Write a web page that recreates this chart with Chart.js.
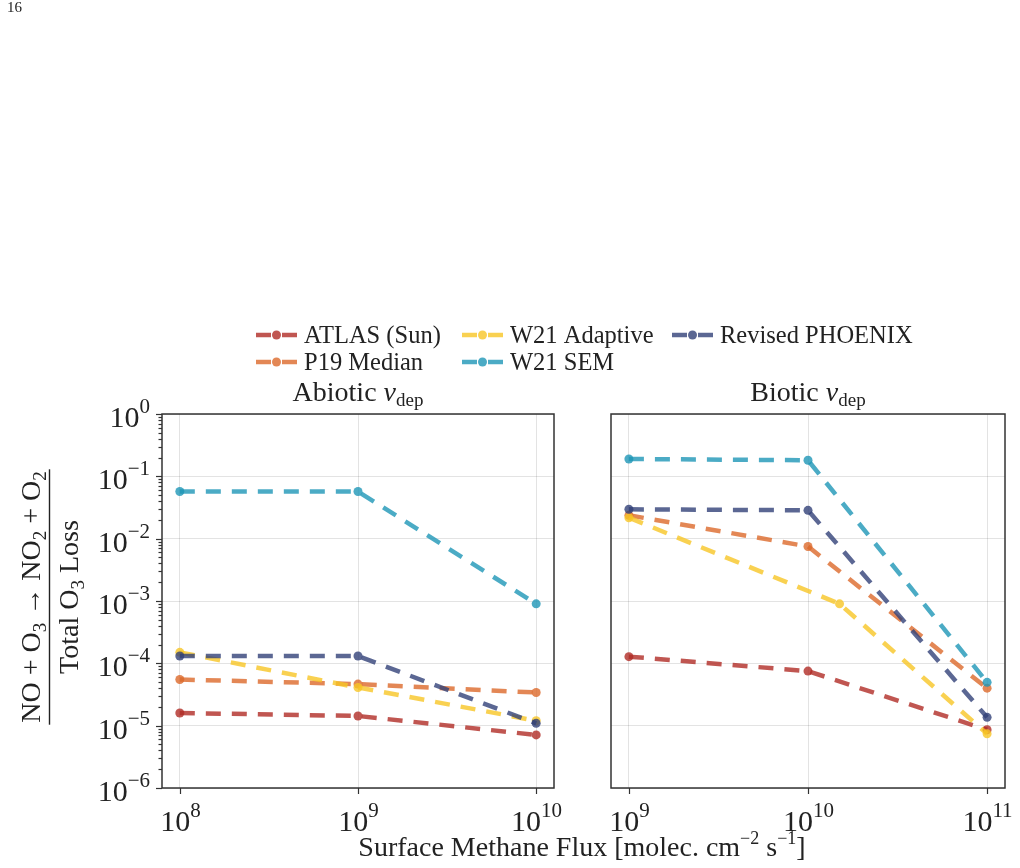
<!DOCTYPE html>
<html>
<head>
<meta charset="UTF-8">
<title>NO + O3 loss fraction</title>
<script src="https://cdn.jsdelivr.net/npm/chart.js"></script>
<style>
  body { margin: 0; background: #fff; }
  #page { position: relative; width: 1020px; height: 868px; background: #fff; }
  #page canvas { position: absolute; left: 0; top: 0; }
</style>
</head>
<body>
<div id="page">
  <canvas id="abiotic" width="1020" height="868"></canvas>
  <canvas id="biotic" width="1020" height="868"></canvas>
</div>
<script>
// --- data ---
const seriesNames = ['ATLAS (Sun)', 'P19 Median', 'W21 Adaptive', 'W21 SEM', 'Revised PHOENIX'];
const seriesColors = ['rgba(176,44,38,0.8)', 'rgba(220,105,42,0.8)', 'rgba(248,198,38,0.8)',
                      'rgba(30,150,182,0.8)', 'rgba(50,65,120,0.8)'];

const abioticFlux = [1e8, 1e9, 1e10];
const bioticFlux = [1e9, 1e10, 1e11];
const bioticFluxAdaptive = [1e9, 1.5e10, 1e11];

const atlasAbiotic    = [1.6e-5, 1.43e-5, 7.1e-6];
const p19Abiotic      = [5.5e-5, 4.65e-5, 3.4e-5];
const adaptiveAbiotic = [1.5e-4, 4.1e-5, 1.2e-5];
const semAbiotic      = [5.7e-2, 5.7e-2, 9.0e-4];
const phoenixAbiotic  = [1.31e-4, 1.31e-4, 1.09e-5];

const atlasBiotic    = [1.28e-4, 7.5e-5, 8.6e-6];
const p19Biotic      = [2.37e-2, 7.5e-3, 4.0e-5];
const adaptiveBiotic = [2.17e-2, 9.0e-4, 7.4e-6];
const semBiotic      = [0.19, 0.181, 4.96e-5];
const phoenixBiotic  = [2.96e-2, 2.85e-2, 1.36e-5];

const yDecades = [1e-6, 1e-5, 1e-4, 1e-3, 1e-2, 1e-1, 1e0];
const abioticTicks = [1e8, 1e9, 1e10];
const bioticTicks = [1e9, 1e10, 1e11];

const FONT = '"Liberation Serif", "DejaVu Serif", serif';
const INK = '#222';

// draw a run of text pieces: [text, size, dy, italic]
function rich(ctx, parts, x, y, align) {
  let w = 0;
  const runs = parts.map(p => {
    ctx.font = (p[3] ? 'italic ' : '') + p[1] + 'px ' + FONT;
    const pw = ctx.measureText(p[0]).width;
    w += pw;
    return { t: p[0], font: ctx.font, dy: p[2] || 0, w: pw };
  });
  let cx = align === 'center' ? x - w / 2 : align === 'right' ? x - w : x;
  ctx.textAlign = 'left';
  ctx.textBaseline = 'alphabetic';
  runs.forEach(r => {
    ctx.font = r.font;
    ctx.fillText(r.t, cx, y + r.dy);
    cx += r.w;
  });
  return w;
}

function powLabel(e) {
  const s = e < 0 ? '\u2212' + (-e) : String(e);
  return [['10', 30, 0], [s, 21, -14]];
}

// frame, ticks, tick labels and title for a panel
const panelDeco = {
  id: 'panelDeco',
  afterDraw(chart, args, opts) {
    const { ctx, chartArea: a, scales: { x, y } } = chart;
    ctx.save();
    ctx.fillStyle = INK;
    ctx.strokeStyle = '#333';
    ctx.lineWidth = 1.5;
    ctx.strokeRect(a.left, a.top, a.right - a.left, a.bottom - a.top);

    ctx.lineWidth = 1.2;
    opts.xTicks.forEach(v => {
      const px = Math.round(x.getPixelForValue(v)) + 0.5;
      ctx.beginPath(); ctx.moveTo(px, a.bottom); ctx.lineTo(px, a.bottom + 6); ctx.stroke();
      rich(ctx, powLabel(Math.round(Math.log10(v))), px, 831, 'center');
    });

    if (opts.yLabels) {
      yDecades.forEach(v => {
        const py = Math.round(y.getPixelForValue(v)) + 0.5;
        ctx.beginPath(); ctx.moveTo(a.left, py); ctx.lineTo(a.left - 6, py); ctx.stroke();
        rich(ctx, powLabel(Math.round(Math.log10(v))), 150, py + 12.5, 'right');
        if (v < 1) {
          for (let m = 2; m <= 9; m++) {
            const my = Math.round(y.getPixelForValue(v * m)) + 0.5;
            ctx.beginPath(); ctx.moveTo(a.left, my); ctx.lineTo(a.left - 3.5, my); ctx.stroke();
          }
        }
      });
    }

    rich(ctx, [[opts.title + ' ', 28, 0], ['v', 28, 0, true], ['dep', 19, 5]],
         (a.left + a.right) / 2, 401, 'center');
    ctx.restore();
  }
};

// shared texts: page number, legend, axis titles
const pageDeco = {
  id: 'pageDeco',
  afterDraw(chart) {
    const ctx = chart.ctx;
    ctx.save();
    ctx.fillStyle = INK;
    rich(ctx, [['16', 15, 0]], 7, 12, 'left');

    const colX = [256, 462, 672];
    const rowY = [335, 362];
    seriesNames.forEach((name, i) => {
      const hx = colX[Math.floor(i / 2)], hy = rowY[i % 2];
      ctx.strokeStyle = seriesColors[i];
      ctx.lineWidth = 4.5;
      ctx.setLineDash([15, 11]);
      ctx.beginPath(); ctx.moveTo(hx, hy); ctx.lineTo(hx + 41, hy); ctx.stroke();
      ctx.setLineDash([]);
      ctx.fillStyle = seriesColors[i];
      ctx.beginPath(); ctx.arc(hx + 20.5, hy, 4.5, 0, Math.PI * 2); ctx.fill();
      ctx.fillStyle = INK;
      rich(ctx, [[name, 24.5, 0]], hx + 48, hy + 8, 'left');
    });

    rich(ctx, [['Surface Methane Flux [molec. cm', 28, 0], ['\u22122', 18, -12], [' s', 28, 0],
               ['\u22121', 18, -12], [']', 28, 0]], 582, 856, 'center');

    // y title as a rotated fraction
    ctx.translate(49.5, 597);
    ctx.rotate(-Math.PI / 2);
    const wNum = rich(ctx, [['NO + O', 28, 0], ['3', 19, 6], [' \u2192 NO', 28, 0], ['2', 19, 6],
                            [' + O', 28, 0], ['2', 19, 6]], 0, -9.5, 'center');
    rich(ctx, [['Total O', 28, 0], ['3', 19, 6], [' Loss', 28, 0]], 0, 28.5, 'center');
    ctx.fillRect(-wNum / 2 - 2, -0.7, wNum + 4, 1.4);
    ctx.restore();
  }
};

function makeDatasets(xs, valueLists) {
  return valueLists.map((vals, i) => ({
    label: seriesNames[i],
    data: vals.map((v, k) => ({ x: xs[k], y: v })),
    borderColor: seriesColors[i],
    backgroundColor: seriesColors[i],
    pointBackgroundColor: seriesColors[i],
    pointBorderWidth: 0,
    pointRadius: 4.5,
    borderWidth: 4.5,
    borderDash: [15, 11],
    tension: 0,
    order: 5 - i
  }));
}

function panelConfig(datasets, xTicks, xMin, xMax, yWidth, padRight, title, yLabels, extra) {
  return {
    type: 'line',
    data: { datasets },
    options: {
      responsive: false,
      animation: false,
      devicePixelRatio: 1,
      layout: { padding: { left: 0, top: 414, right: padRight, bottom: 0 } },
      plugins: {
        legend: { display: false },
        tooltip: { enabled: false },
        panelDeco: { xTicks, title, yLabels }
      },
      scales: {
        x: {
          type: 'logarithmic', min: xMin, max: xMax,
          afterBuildTicks: s => { s.ticks = xTicks.map(v => ({ value: v })); },
          afterFit: s => { s.height = 80; },
          ticks: { display: false },
          grid: { color: 'rgba(0,0,0,0.11)', lineWidth: 1, drawTicks: false },
          border: { display: false }
        },
        y: {
          type: 'logarithmic', min: 1e-6, max: 1,
          afterBuildTicks: s => { s.ticks = yDecades.map(v => ({ value: v })); },
          afterFit: s => { s.width = yWidth; },
          ticks: { display: false },
          grid: { color: 'rgba(0,0,0,0.11)', lineWidth: 1, drawTicks: false },
          border: { display: false }
        }
      }
    },
    plugins: extra ? [panelDeco, pageDeco] : [panelDeco]
  };
}

const abioticSets = makeDatasets(abioticFlux,
  [atlasAbiotic, p19Abiotic, adaptiveAbiotic, semAbiotic, phoenixAbiotic]);
const bioticSets = makeDatasets(bioticFlux,
  [atlasBiotic, p19Biotic, adaptiveBiotic, semBiotic, phoenixBiotic]);
// the adaptive spectrum was run at a different middle flux in the biotic case
bioticSets[2].data = adaptiveBiotic.map((v, k) => ({ x: bioticFluxAdaptive[k], y: v }));

new Chart(document.getElementById('abiotic'),
  panelConfig(abioticSets, abioticTicks, Math.pow(10, 7.9), Math.pow(10, 10.1), 162, 466, 'Abiotic', true, true));
new Chart(document.getElementById('biotic'),
  panelConfig(bioticSets, bioticTicks, Math.pow(10, 8.9), Math.pow(10, 11.1), 611, 15, 'Biotic', false, false));
</script>
</body>
</html>
